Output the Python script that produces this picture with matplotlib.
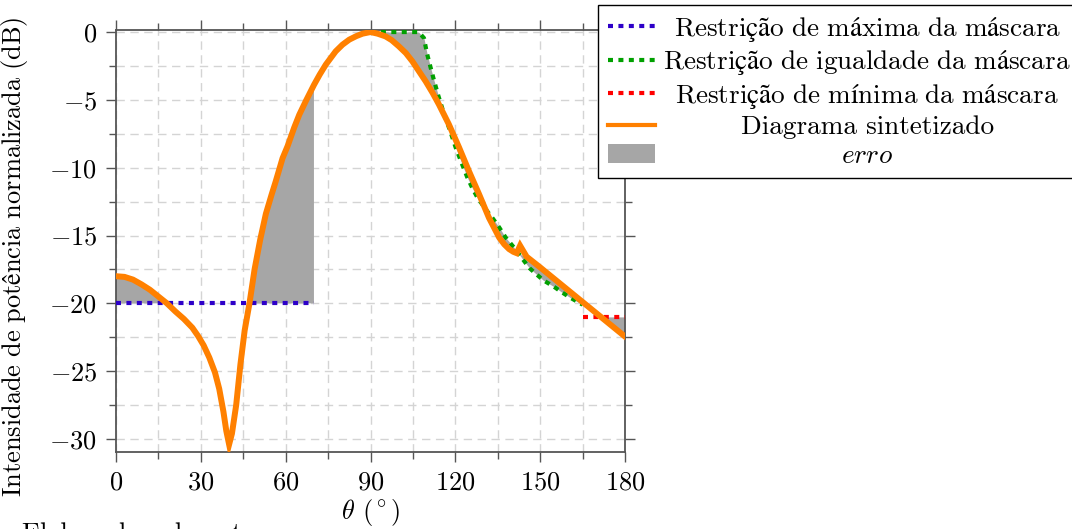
import numpy as np
import matplotlib
matplotlib.use("Agg")
import matplotlib.pyplot as plt
from matplotlib.ticker import MultipleLocator
from matplotlib.patches import Patch
from matplotlib.lines import Line2D

plt.rcParams['font.family'] = ['cmr10', 'DejaVu Serif']
plt.rcParams['mathtext.fontset'] = 'cm'
plt.rcParams['axes.formatter.use_mathtext'] = True
plt.rcParams['axes.unicode_minus'] = True

# ---- data ----
theta_syn = [0, 3, 6, 9, 12, 15, 18, 21, 24, 27, 29, 31, 33, 35, 36.5, 38, 39, 40, 41,
             42.5, 44, 45.5, 47.2, 49, 51, 53, 55, 56.5, 58.9, 60.7, 63, 64.8, 67.1,
             70, 72, 74.2, 77.7, 80.1, 82.5, 85, 87.2, 90, 92.5, 95.3, 97.5, 100,
             102.5, 104.8, 107, 109.5, 112, 114.2, 117.7, 121.3, 124.8, 128.4, 131.9,
             135.5, 137.3, 139, 140.5, 141.7, 142.9, 145.2, 150, 155, 160, 165, 170,
             175, 180]
syn_db = [-18.0, -18.05, -18.25, -18.6, -19.0, -19.5, -20.0, -20.6, -21.15, -21.8,
          -22.4, -23.1, -24.0, -25.1, -26.3, -28.0, -29.4, -30.4, -29.6, -27.5,
          -24.5, -22.0, -20.0, -17.5, -15.3, -13.4, -12.0, -11.0, -9.3, -8.4, -7.05,
          -6.1, -5.1, -3.9, -3.15, -2.4, -1.42, -0.93, -0.56, -0.3, -0.12, 0.0,
          -0.12, -0.32, -0.6, -1.05, -1.55, -2.16, -2.85, -3.63, -4.5, -5.34, -6.8,
          -8.5, -10.25, -11.96, -13.7, -15.15, -15.65, -16.0, -16.2, -16.3, -15.75,
          -16.56, -17.35, -18.2, -19.05, -19.9, -20.75, -21.6, -22.45]

theta_max = [0, 70]
max_db = [-20, -20]

theta_eq = [90, 107, 108.9, 110, 111.3, 112.5, 114, 115.5, 117, 118.5, 120.1, 122.5,
            124.2, 126, 127.8, 130.7, 133.1, 135.5, 137.8, 140.8, 142.6, 146.2,
            151.1, 154.7, 157.8, 160.8, 165]
eq_db = [0, 0, -0.44, -1.6, -2.65, -3.6, -4.7, -5.7, -6.6, -7.5, -8.5, -9.8, -10.7,
         -11.5, -12.2, -13.06, -13.7, -14.4, -15.15, -15.9, -16.4, -17.4, -18.3,
         -18.75, -19.2, -19.6, -20.1]

theta_min = [165, 180]
min_db = [-21, -21]


def mt(s):
    return r"$\mathrm{" + s.replace(" ", r"\ ") + "}$"


labels = [mt("Restrição de máxima da máscara"),
          mt("Restrição de igualdade da máscara"),
          mt("Restrição de mínima da máscara"),
          "Diagrama sintetizado",
          r"$\mathit{erro}$"]
ylabel = mt("Intensidade de potência normalizada (dB)")

c_blue = '#2d00c8'
c_green = '#00a000'
c_red = '#ff0000'
c_orange = '#ff8000'
c_gray = '#a6a6a6'

fs = 19
fs_leg = 19.6

fig = plt.figure(figsize=(10.72, 5.29), dpi=100)
ax = fig.add_axes([116 / 1072, 1 - 452 / 529, 509 / 1072, 422 / 529])

# monotonic part of synthesized data for error areas
ts = np.array(theta_syn, float)
ys = np.array(syn_db, float)
mono = np.ones(len(ts), bool)
for i in range(1, len(ts) - 1):
    if ys[i] > ys[i - 1] and ys[i] > ys[i + 1] and ts[i] > 120:
        mono[i] = False
tm, ym = ts[mono], ys[mono]

tg = np.linspace(0, 70, 700)
yg = np.interp(tg, tm, ym)
ax.fill_between(tg, yg, np.interp(tg, theta_max, max_db), where=yg > -20,
                color=c_gray, lw=0, interpolate=True, zorder=2)
tg = np.linspace(90, 165, 900)
yg = np.interp(tg, tm, ym)
ax.fill_between(tg, yg, np.interp(tg, theta_eq, eq_db), color=c_gray, lw=0, zorder=2)
tg = np.linspace(165, 180, 300)
yg = np.interp(tg, tm, ym)
ax.fill_between(tg, yg, np.interp(tg, theta_min, min_db), where=yg < -21,
                color=c_gray, lw=0, interpolate=True, zorder=2)

dot = (0, (1.2, 1.3))
ax.plot(theta_max, max_db, color=c_blue, lw=3, ls=dot, dash_capstyle='butt', zorder=3)
ax.plot(theta_eq, eq_db, color=c_green, lw=3, ls=dot, dash_capstyle='butt', zorder=3)
ax.plot(theta_min, min_db, color=c_red, lw=3, ls=dot, dash_capstyle='butt', zorder=3)
ax.plot(theta_syn, syn_db, color=c_orange, lw=4.3, solid_joinstyle='miter', zorder=4)

ax.set_xlim(0, 180)
ax.set_ylim(-30.96, 0.15)
ax.xaxis.set_major_locator(MultipleLocator(30))
ax.xaxis.set_minor_locator(MultipleLocator(15))
ax.yaxis.set_major_locator(MultipleLocator(5))
ax.yaxis.set_minor_locator(MultipleLocator(2.5))
ax.grid(True, which='both', color='#d4d4d4', ls=(0, (6, 4)), lw=1.0, zorder=0)
ax.set_axisbelow(True)
ax.tick_params(which='both', direction='out', top=True, right=True,
               color='#555555', labelsize=fs, width=1.0)
ax.tick_params(which='major', length=7.5, pad=6)
ax.tick_params(which='minor', length=5)
for s in ax.spines.values():
    s.set_color('#555555')
    s.set_linewidth(1.3)

ax.set_xlabel(r"$\theta$ ($^\circ$)", fontsize=fs, labelpad=2)
ax.set_ylabel(ylabel, fontsize=fs)
ax.yaxis.set_label_coords((30 - 116) / 509, (452 - 257) / 422)

handles = [Line2D([], [], color=c_blue, lw=3, ls=dot, dash_capstyle='butt'),
           Line2D([], [], color=c_green, lw=3, ls=dot, dash_capstyle='butt'),
           Line2D([], [], color=c_red, lw=3, ls=dot, dash_capstyle='butt'),
           Line2D([], [], color=c_orange, lw=3),
           Patch(facecolor=c_gray, edgecolor='none')]
leg = fig.legend(handles, labels, loc='upper left',
                 bbox_to_anchor=(598 / 1072, 1 - 5 / 529), fontsize=fs_leg,
                 frameon=True, fancybox=False, edgecolor='black', framealpha=1,
                 handlelength=1.75, handletextpad=0.3, labelspacing=0.17,
                 borderpad=0.35, borderaxespad=0)
leg.get_frame().set_linewidth(1.0)

fig.text(22 / 1072, 1 - 522 / 529, "Elaborado pelo autor", fontsize=fs,
         ha='left', va='top')

# center legend texts within their column (as in the reference)
fig.canvas.draw()
r = fig.canvas.get_renderer()
texts = leg.get_texts()
widths = [t.get_window_extent(r).width for t in texts]
wmax = max(widths)
for t, w in zip(texts, widths):
    t.set_x((wmax - w) / 2)

fig.savefig("out.png", dpi=100)
